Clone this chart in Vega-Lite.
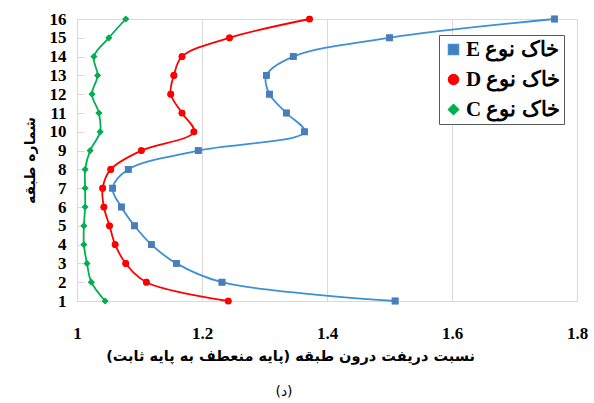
{
  "$schema": "https://vega.github.io/schema/vega-lite/v6.json",
  "autosize": "none",
  "width": 500,
  "height": 282,
  "padding": {"left": 77, "top": 19, "right": 17, "bottom": 102},
  "background": "white",
  "config": {
    "view": {"stroke": "#d9d9d9", "strokeWidth": 1},
    "font": "Liberation Serif"
  },
  "title": {
    "text": "(د)",
    "orient": "bottom",
    "anchor": "middle",
    "dx": -43,
    "offset": 22,
    "font": "DejaVu Sans",
    "fontSize": 14,
    "fontWeight": "normal",
    "color": "#000000"
  },
  "data": {
    "values": [
      {"soil": "E", "story": 1, "ratio": 1.509},
      {"soil": "E", "story": 2, "ratio": 1.232},
      {"soil": "E", "story": 3, "ratio": 1.159},
      {"soil": "E", "story": 4, "ratio": 1.119},
      {"soil": "E", "story": 5, "ratio": 1.092},
      {"soil": "E", "story": 6, "ratio": 1.071},
      {"soil": "E", "story": 7, "ratio": 1.057},
      {"soil": "E", "story": 8, "ratio": 1.082},
      {"soil": "E", "story": 9, "ratio": 1.194},
      {"soil": "E", "story": 10, "ratio": 1.364},
      {"soil": "E", "story": 11, "ratio": 1.335},
      {"soil": "E", "story": 12, "ratio": 1.308},
      {"soil": "E", "story": 13, "ratio": 1.303},
      {"soil": "E", "story": 14, "ratio": 1.346},
      {"soil": "E", "story": 15, "ratio": 1.500},
      {"soil": "E", "story": 16, "ratio": 1.764},
      {"soil": "D", "story": 1, "ratio": 1.242},
      {"soil": "D", "story": 2, "ratio": 1.111},
      {"soil": "D", "story": 3, "ratio": 1.078},
      {"soil": "D", "story": 4, "ratio": 1.061},
      {"soil": "D", "story": 5, "ratio": 1.052},
      {"soil": "D", "story": 6, "ratio": 1.043},
      {"soil": "D", "story": 7, "ratio": 1.041},
      {"soil": "D", "story": 8, "ratio": 1.054},
      {"soil": "D", "story": 9, "ratio": 1.103},
      {"soil": "D", "story": 10, "ratio": 1.187},
      {"soil": "D", "story": 11, "ratio": 1.168},
      {"soil": "D", "story": 12, "ratio": 1.150},
      {"soil": "D", "story": 13, "ratio": 1.155},
      {"soil": "D", "story": 14, "ratio": 1.168},
      {"soil": "D", "story": 15, "ratio": 1.244},
      {"soil": "D", "story": 16, "ratio": 1.372},
      {"soil": "C", "story": 1, "ratio": 1.045},
      {"soil": "C", "story": 2, "ratio": 1.023},
      {"soil": "C", "story": 3, "ratio": 1.016},
      {"soil": "C", "story": 4, "ratio": 1.011},
      {"soil": "C", "story": 5, "ratio": 1.011},
      {"soil": "C", "story": 6, "ratio": 1.013},
      {"soil": "C", "story": 7, "ratio": 1.013},
      {"soil": "C", "story": 8, "ratio": 1.013},
      {"soil": "C", "story": 9, "ratio": 1.021},
      {"soil": "C", "story": 10, "ratio": 1.037},
      {"soil": "C", "story": 11, "ratio": 1.035},
      {"soil": "C", "story": 12, "ratio": 1.024},
      {"soil": "C", "story": 13, "ratio": 1.033},
      {"soil": "C", "story": 14, "ratio": 1.027},
      {"soil": "C", "story": 15, "ratio": 1.051},
      {"soil": "C", "story": 16, "ratio": 1.078}
    ]
  },
  "encoding": {
    "x": {
      "field": "ratio",
      "type": "quantitative",
      "scale": {"domain": [1, 1.8], "nice": false, "zero": false},
      "axis": {
        "values": [1, 1.2, 1.4, 1.6, 1.8],
        "format": ".1~f",
        "title": "\u200fنسبت دریفت درون طبقه (پایه منعطف به پایه ثابت)\u200f",
        "titleFont": "DejaVu Sans",
        "titleFontSize": 14.5,
        "titleFontWeight": "bold",
        "titleColor": "#000000",
        "titlePadding": 8,
        "titleX": 213,
        "titleAlign": "center",
        "labelFont": "Liberation Serif",
        "labelFontSize": 17,
        "labelFontWeight": "bold",
        "labelColor": "#000000",
        "labelPadding": 24,
        "ticks": false,
        "tickSize": 0,
        "domain": true,
        "domainColor": "#d9d9d9",
        "grid": true,
        "gridColor": "#d9d9d9",
        "labelFlush": false
      }
    },
    "y": {
      "field": "story",
      "type": "quantitative",
      "scale": {"domain": [1, 16], "nice": false, "zero": false},
      "axis": {
        "values": [1, 2, 3, 4, 5, 6, 7, 8, 9, 10, 11, 12, 13, 14, 15, 16],
        "title": "شماره طبقه",
        "titleFont": "DejaVu Sans",
        "titleFontSize": 14,
        "titleFontWeight": "bold",
        "titleColor": "#000000",
        "titlePadding": 12,
        "labelFont": "Liberation Serif",
        "labelFontSize": 17,
        "labelFontWeight": "bold",
        "labelColor": "#000000",
        "labelPadding": 18,
        "ticks": true,
        "tickSize": -7,
        "tickColor": "#d9d9d9",
        "domain": true,
        "domainColor": "#d9d9d9",
        "grid": false,
        "labelFlush": false
      }
    }
  },
  "layer": [
    {
      "mark": {"type": "point", "filled": true, "opacity": 1, "size": 45},
      "encoding": {
        "color": {
          "field": "soil",
          "type": "nominal",
          "scale": {"domain": ["E", "D", "C"], "range": ["#4a7ebb", "#ff0000", "#00b050"]},
          "legend": {
            "title": null,
            "orient": "none",
            "legendX": 362,
            "legendY": 16,
            "labelExpr": "datum.label + ' خاک نوع'",
            "labelFont": "Liberation Serif",
            "labelFontSize": 21,
            "labelFontWeight": "bold",
            "labelColor": "#000000",
            "labelOffset": 2,
            "symbolSize": 100,
            "rowPadding": 8,
            "padding": 4,
            "strokeColor": "#595959",
            "fillColor": "#ffffff",
            "labelLimit": 300
          }
        },
        "shape": {
          "field": "soil",
          "type": "nominal",
          "scale": {"domain": ["E", "D", "C"], "range": ["square", "circle", "diamond"]}
        }
      }
    },
    {
      "mark": {"type": "line", "interpolate": "catmull-rom", "strokeWidth": 1.8},
      "encoding": {
        "order": {"field": "story", "type": "quantitative"},
        "detail": {"field": "soil"},
        "stroke": {
          "field": "soil",
          "type": "nominal",
          "scale": {"domain": ["E", "D", "C"], "range": ["#3d8fd6", "#ff0000", "#00b050"]}
        }
      }
    },
    {
      "mark": {"type": "point", "filled": true, "opacity": 1, "size": 45},
      "encoding": {
        "color": {"field": "soil", "type": "nominal"},
        "shape": {"field": "soil", "type": "nominal"}
      }
    }
  ]
}
